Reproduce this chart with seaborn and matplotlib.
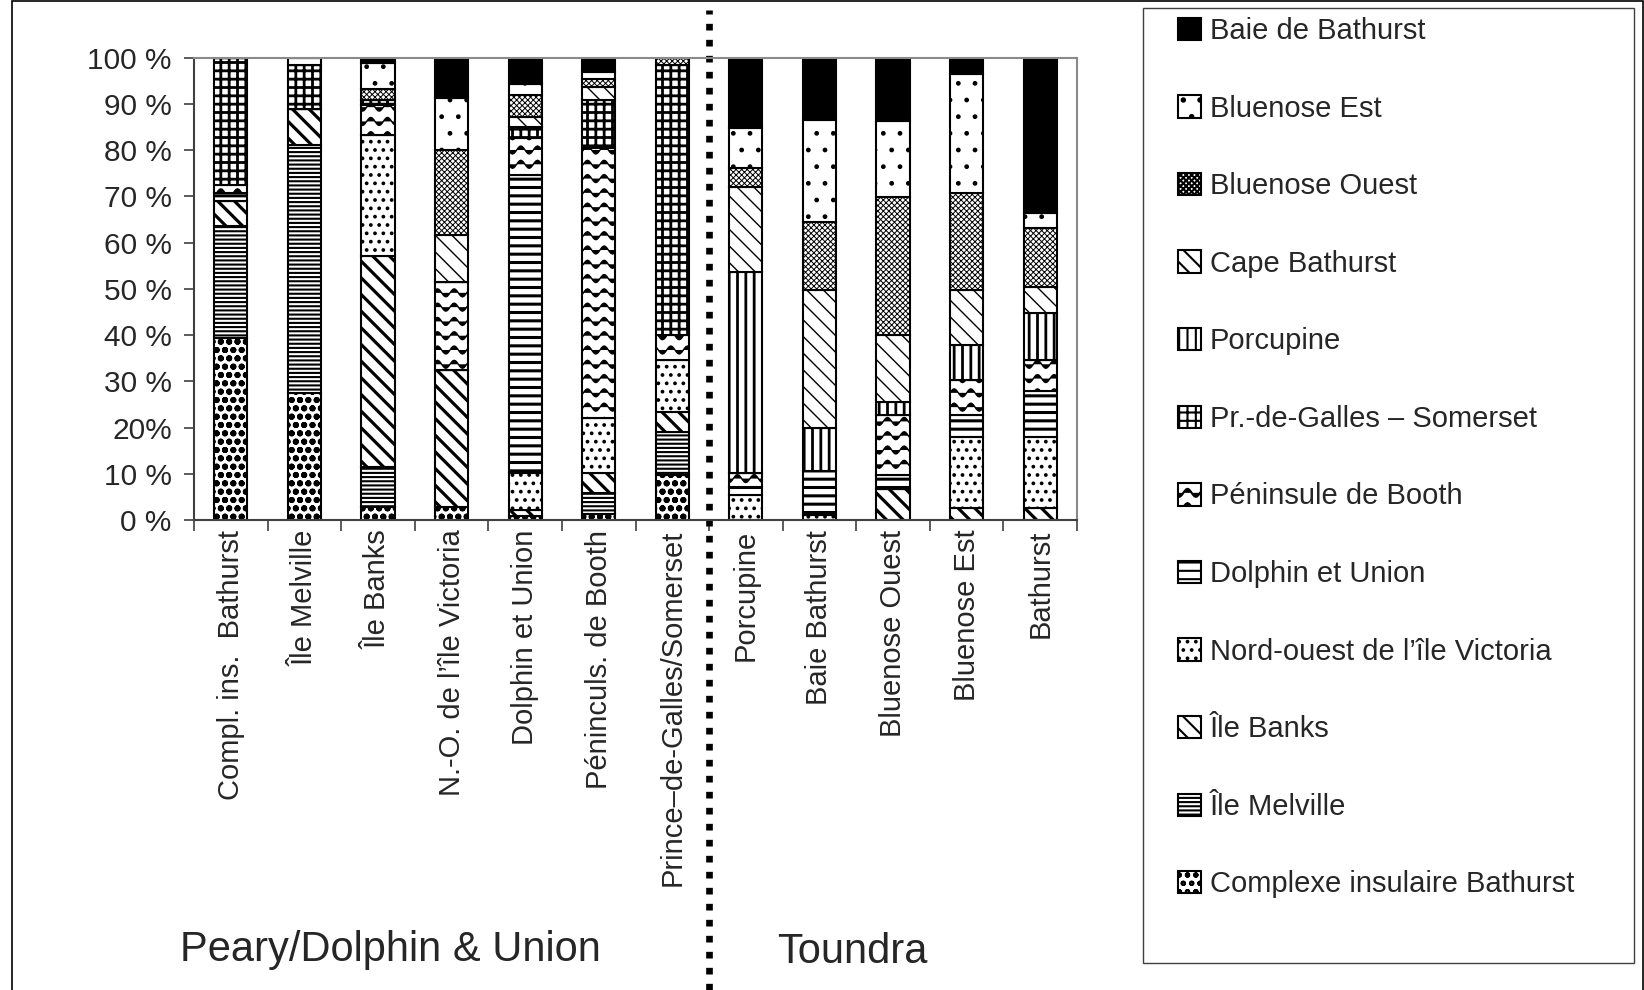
import numpy as np
import matplotlib
matplotlib.use("Agg")
import matplotlib.pyplot as plt
import matplotlib.patches as mpatches
import matplotlib.transforms as mtransforms
import matplotlib.hatch as mhatch
from matplotlib.path import Path
import seaborn as sns

# ---------------------------------------------------------------- data
HERDS = [
    "Compl. ins.  Bathurst", "Île Melville", "Île Banks",
    "N.-O. de l’île Victoria", "Dolphin et Union", "Péninculs. de Booth",
    "Prince–de-Galles/Somerset", "Porcupine", "Baie Bathurst",
    "Bluenose Ouest", "Bluenose Est", "Bathurst",
]

# share (%) of each herd assigned to each source population, bottom to top
complexe_bathurst = [39.4, 27.4, 2.9, 2.9, 0.8, 1.4, 9.7, 0.0, 0.0, 0.0, 0.0, 0.0]
ile_melville      = [24.3, 53.7, 8.6, 0.0, 0.0, 4.4, 9.4, 0.0, 0.0, 0.0, 0.0, 0.0]
ile_banks         = [5.2, 7.9, 45.5, 29.5, 1.4, 4.3, 4.3, 0.0, 0.0, 6.8, 2.5, 2.5]
no_ile_victoria   = [0.0, 0.0, 26.3, 0.0, 7.9, 11.9, 11.2, 5.4, 1.1, 0.0, 15.5, 15.5]
dolphin_union     = [1.8, 0.0, 0.0, 0.0, 64.5, 0.0, 0.0, 1.8, 9.4, 2.9, 4.7, 9.8]
peninsule_booth   = [1.8, 0.0, 6.5, 19.1, 8.0, 58.4, 5.4, 2.9, 0.0, 13.0, 7.6, 6.8]
galles_somerset   = [27.5, 9.4, 1.0, 0.0, 2.5, 10.4, 58.4, 0.0, 0.0, 0.0, 0.0, 0.0]
porcupine         = [0.0, 0.0, 0.0, 0.0, 0.0, 0.0, 0.0, 43.6, 9.3, 2.9, 7.6, 10.1]
cape_bathurst     = [0.0, 0.0, 0.0, 10.1, 2.1, 2.9, 0.0, 18.4, 29.9, 14.4, 11.8, 5.8]
bluenose_ouest    = [0.0, 0.0, 2.5, 18.4, 4.7, 1.8, 1.6, 4.0, 14.8, 29.9, 21.0, 12.6]
bluenose_est      = [0.0, 1.6, 5.5, 11.2, 2.5, 1.5, 0.0, 8.8, 22.0, 16.3, 25.7, 3.2]
baie_bathurst     = [0.0, 0.0, 1.2, 8.8, 5.6, 3.0, 0.0, 15.1, 13.5, 13.8, 3.6, 33.7]

SERIES = [
    ("Complexe insulaire Bathurst", complexe_bathurst),
    ("Île Melville", ile_melville),
    ("Île Banks", ile_banks),
    ("Nord-ouest de l’île Victoria", no_ile_victoria),
    ("Dolphin et Union", dolphin_union),
    ("Péninsule de Booth", peninsule_booth),
    ("Pr.-de-Galles – Somerset", galles_somerset),
    ("Porcupine", porcupine),
    ("Cape Bathurst", cape_bathurst),
    ("Bluenose Ouest", bluenose_ouest),
    ("Bluenose Est", bluenose_est),
    ("Baie de Bathurst", baie_bathurst),
]

Y_TICKS = [0, 10, 20, 30, 40, 50, 60, 70, 80, 90, 100]
Y_TICK_LABELS = ["0 %", "10 %", "20%", "30 %", "40 %", "50 %",
                 "60 %", "70 %", "80 %", "90 %", "100 %"]
GROUPS = ["Peary/Dolphin & Union", "Toundra"]

# ---------------------------------------------------------------- fill styles
# (face colour, hatch, hatch line width) per source population
STYLES = {
    "Complexe insulaire Bathurst": ("white", "oo", 2.0),
    "Île Melville": ("white", "----", 1.5),
    "Île Banks": ("white", "\\\\", 2.3),
    "Nord-ouest de l’île Victoria": ("white", "..", 1.5),
    "Dolphin et Union": ("white", "--", 2.2),
    "Péninsule de Booth": ("white", "*", 1.0),
    "Pr.-de-Galles – Somerset": ("white", "++", 2.0),
    "Porcupine": ("white", "||", 2.0),
    "Cape Bathurst": ("white", "\\\\", 1.0),
    "Bluenose Ouest": ("white", "xxxxxx", 0.7),
    "Bluenose Est": ("white", ".", 1.0),
    "Baie de Bathurst": ("black", None, 1.0),
}


class WaveHatch(mhatch.HatchPatternBase):
    """Wavy horizontal lines, used for each '*' in a hatch string."""

    def __init__(self, hatch, density):
        self.num_lines = int(hatch.count("*") * 7)
        self.num_points = 73
        self.num_vertices = self.num_lines * self.num_points

    def set_vertices_and_codes(self, vertices, codes):
        n = self.num_points
        xs = np.linspace(0.0, 1.0, n)
        spacing = 1.0 / self.num_lines
        wave = 0.28 * spacing * np.sin(2 * np.pi * 6 * xs)
        for i in range(self.num_lines):
            y = (i + 0.5) * spacing
            seg = slice(i * n, (i + 1) * n)
            vertices[seg, 0] = xs
            vertices[seg, 1] = y + wave
            codes[seg] = Path.LINETO
            codes[i * n] = Path.MOVETO


mhatch._hatch_types = [WaveHatch if t is mhatch.Stars else t
                       for t in mhatch._hatch_types]


def style_patch(patch, name):
    face, hatch, hlw = STYLES[name]
    patch.set_facecolor(face)
    patch.set_edgecolor("black")
    patch.set_hatch(hatch)
    if hasattr(patch, "set_hatch_linewidth"):
        patch.set_hatch_linewidth(hlw)


# ---------------------------------------------------------------- figure
sns.set_style("white")
plt.rcParams["font.family"] = ["Liberation Sans", "DejaVu Sans"]
plt.rcParams["hatch.linewidth"] = 1.5

W, H = 1644, 990
fig = plt.figure(figsize=(W / 100, H / 100), dpi=100)
ax = fig.add_axes([194 / W, 1 - 520 / H, (1077 - 194) / W, (520 - 57.7) / H])

bottom = np.zeros(len(HERDS))
for name, values in SERIES:
    vals = np.asarray(values, dtype=float)
    sns.barplot(x=HERDS, y=vals, order=HERDS, bottom=bottom, width=0.45,
                color=STYLES[name][0], saturation=1, edgecolor="black",
                linewidth=1.5, errorbar=None, ax=ax)
    for patch in ax.containers[-1]:
        style_patch(patch, name)
    bottom = bottom + vals

ax.set_xlim(-0.5, len(HERDS) - 0.5)
ax.set_ylim(0, 100)
ax.set_xlabel("")
ax.set_ylabel("")

ax.set_yticks(Y_TICKS)
ax.set_yticklabels(Y_TICK_LABELS)
ax.tick_params(axis="y", left=True, length=7, width=1.2, color="#404040",
               pad=9, labelsize=21.5, direction="out")

ax.set_xticks(range(len(HERDS)))
ax.set_xticklabels(HERDS, rotation=90)
ax.set_xticks(np.arange(-0.5, len(HERDS), 1.0), minor=True)
ax.tick_params(axis="x", which="major", bottom=True, length=0, pad=7,
               labelsize=21)
ax.tick_params(axis="x", which="minor", bottom=True, length=8, width=1.2,
               color="#404040", direction="out")

for side in ("top", "right"):
    ax.spines[side].set_color("#8a8a8a")
    ax.spines[side].set_linewidth(1.5)
for side in ("left", "bottom"):
    ax.spines[side].set_color("#404040")
    ax.spines[side].set_linewidth(1.5)

# dotted separator between the two herd groups
sep = mtransforms.blended_transform_factory(ax.transData, fig.transFigure)
ax.plot([6.5, 6.5], [0.0, 1 - 10 / H], transform=sep, clip_on=False,
        color="black", linewidth=4.8, dashes=(1, 1.4),
        solid_capstyle="butt", dash_capstyle="butt")

# group captions
fig.text(390 / W, 1 - 950 / H, GROUPS[0], ha="center", va="center", fontsize=30)
fig.text(852 / W, 1 - 952 / H, GROUPS[1], ha="center", va="center", fontsize=30)

# legend, top of the stack first
handles, labels = [], []
for name, _ in reversed(SERIES):
    h = mpatches.Patch(linewidth=1.5)
    style_patch(h, name)
    handles.append(h)
    labels.append(name)
fig.legend(handles, labels, loc="upper left",
           bbox_to_anchor=(1178 / W, 1 - 17 / H), frameon=False, fontsize=21,
           handlelength=0.8, handleheight=0.8, handletextpad=0.3,
           labelspacing=1.70, borderpad=0, borderaxespad=0)

fig.add_artist(mpatches.Rectangle((1143 / W, 1 - 963 / H), (1634 - 1143) / W,
                                  (963 - 8) / H, transform=fig.transFigure,
                                  fill=False, edgecolor="#404040", linewidth=1))
fig.add_artist(mpatches.Rectangle((12 / W, -0.01), (W - 13) / W, 1.01 - 1 / H,
                                  transform=fig.transFigure, fill=False,
                                  edgecolor="black", linewidth=1.2))

fig.savefig("out.png", dpi=100)
